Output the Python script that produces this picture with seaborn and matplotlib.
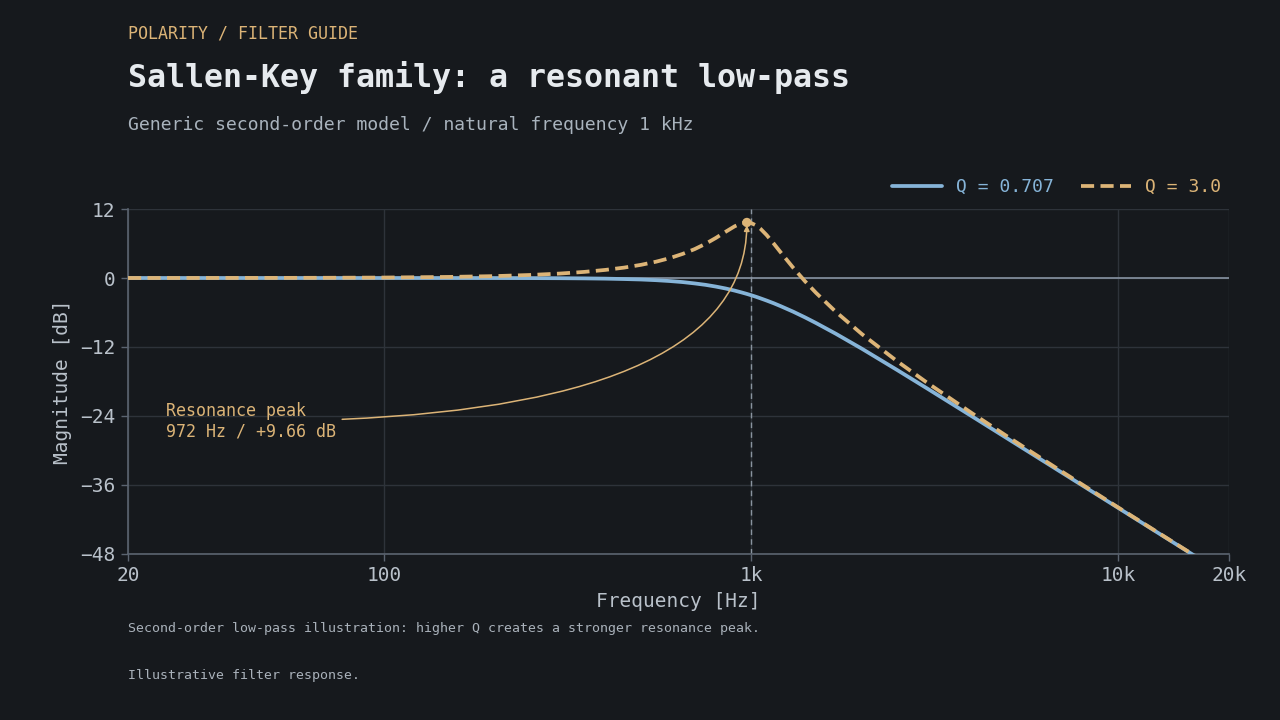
import matplotlib
matplotlib.use("Agg")
import matplotlib.pyplot as plt
from matplotlib.ticker import NullLocator
import pandas as pd
import seaborn as sns

# values
freq_hz = [20, 30, 50, 70, 100, 150, 200, 250, 300, 350, 400, 450, 500, 550, 600,
           650, 700, 750, 800, 850, 900, 940, 972, 1000, 1030, 1060, 1100, 1150,
           1200, 1300, 1400, 1500, 1700, 2000, 2500, 3000, 4000, 5000, 7000,
           10000, 14000, 20000]
gain_q_0707 = [0.00, 0.00, 0.00, 0.00, 0.00, -0.002, -0.007, -0.017, -0.035, -0.065,
               -0.11, -0.18, -0.26, -0.38, -0.53, -0.71, -0.94, -1.19, -1.49, -1.82,
               -2.19, -2.51, -2.77, -3.01, -3.27, -3.55, -3.92, -4.39, -4.88, -5.86,
               -6.85, -7.83, -9.71, -12.30, -16.03, -19.14, -24.10, -27.97, -33.81,
               -40.00, -45.85, -52.04]
gain_q_3 = [0.003, 0.007, 0.02, 0.04, 0.08, 0.19, 0.33, 0.53, 0.77, 1.06, 1.41, 1.81,
            2.29, 2.84, 3.47, 4.20, 5.02, 5.95, 6.97, 8.03, 8.99, 9.52, 9.66, 9.54,
            9.15, 8.53, 7.48, 6.00, 4.51, 1.78, -0.57, -2.58, -5.90, -9.75, -14.51,
            -18.13, -23.56, -27.62, -33.63, -39.92, -45.80, -52.02]
peak_hz = 972
peak_db = 9.66
fn_hz = 1000

x_ticks = [20, 100, 1000, 10000, 20000]
x_labels = ["20", "100", "1k", "10k", "20k"]
y_ticks = [-48, -36, -24, -12, 0, 12]

BG = "#16191d"
BLUE = "#86b4d8"
TAN = "#dcb477"
GRID = "#2e333a"
SPINE = "#5b6470"
TICK = "#b9c1ca"

sns.set_theme(style="dark", rc={
    "figure.facecolor": BG, "axes.facecolor": BG, "savefig.facecolor": BG,
    "axes.edgecolor": SPINE, "grid.color": GRID, "text.color": TICK,
    "axes.labelcolor": TICK, "xtick.color": TICK, "ytick.color": TICK,
})
plt.rcParams["font.family"] = ["DejaVu Sans Mono", "DejaVu Sans"]

df = pd.DataFrame({"freq": freq_hz, "q0707": gain_q_0707, "q3": gain_q_3})

fig = plt.figure(figsize=(12.8, 7.2), dpi=100)
ax = fig.add_axes([0.1, 0.2306, 0.86, 0.4791])

ax.axhline(0, color="#8793a2", lw=1.2, zorder=1)
ax.axvline(fn_hz, color="#8a94a0", lw=1.0, ls=(0, (4, 3)), zorder=1)

sns.lineplot(data=df, x="freq", y="q0707", ax=ax, color=BLUE, lw=2.7,
             label="Q = 0.707", zorder=3)
sns.lineplot(data=df, x="freq", y="q3", ax=ax, color=TAN, lw=2.7, ls=(0, (3.5, 1.7)),
             label="Q = 3.0", zorder=4)

ax.scatter([peak_hz], [peak_db], s=45, color=TAN, zorder=5, edgecolor="none")
ax.annotate("Resonance peak\n972 Hz / +9.66 dB", xy=(peak_hz, peak_db),
            xytext=(25.4, -24.9), ha="left", va="center", color=TAN, fontsize=12,
            arrowprops=dict(arrowstyle="-|>", color=TAN, lw=1.1, mutation_scale=8,
                            connectionstyle="angle3,angleA=0,angleB=90"))

ax.set_xscale("log")
ax.set_xlim(20, 20000)
ax.set_ylim(-48, 12)
ax.set_xticks(x_ticks)
ax.set_xticklabels(x_labels)
ax.xaxis.set_minor_locator(NullLocator())
ax.set_yticks(y_ticks)
ax.tick_params(axis="both", labelsize=14, length=5, width=1, color=SPINE,
               bottom=True, left=True, pad=4)
ax.grid(True, color=GRID, lw=1)
for side in ["top", "right"]:
    ax.spines[side].set_visible(False)
for side in ["left", "bottom"]:
    ax.spines[side].set_color(SPINE)
    ax.spines[side].set_linewidth(1.2)

ax.set_xlabel("Frequency [Hz]", fontsize=14, labelpad=5)
ax.set_ylabel("Magnitude [dB]", fontsize=14, labelpad=6)

leg = ax.legend(loc="lower right", bbox_to_anchor=(1.0, 1.017), ncol=2, frameon=False,
                fontsize=13, handlelength=2.75, handletextpad=0.8, columnspacing=1.5,
                borderaxespad=0.0)
for txt, col in zip(leg.get_texts(), [BLUE, TAN]):
    txt.set_color(col)

fig.text(0.1, 0.9528, "POLARITY / FILTER GUIDE", color=TAN, fontsize=12, va="center")
fig.text(0.1, 0.8917, "Sallen-Key family: a resonant low-pass", color="#e6eaee",
         fontsize=22.8, fontweight="bold", va="center")
fig.text(0.1, 0.8264, "Generic second-order model / natural frequency 1 kHz",
         color="#a9b3bd", fontsize=13.1, va="center")
fig.text(0.1, 0.1264, "Second-order low-pass illustration: higher Q creates a stronger resonance peak.",
         color="#a9b1ba", fontsize=9.5, va="center")
fig.text(0.1, 0.0625, "Illustrative filter response.", color="#a9b1ba", fontsize=9.5,
         va="center")

fig.savefig("out.png", dpi=100)
